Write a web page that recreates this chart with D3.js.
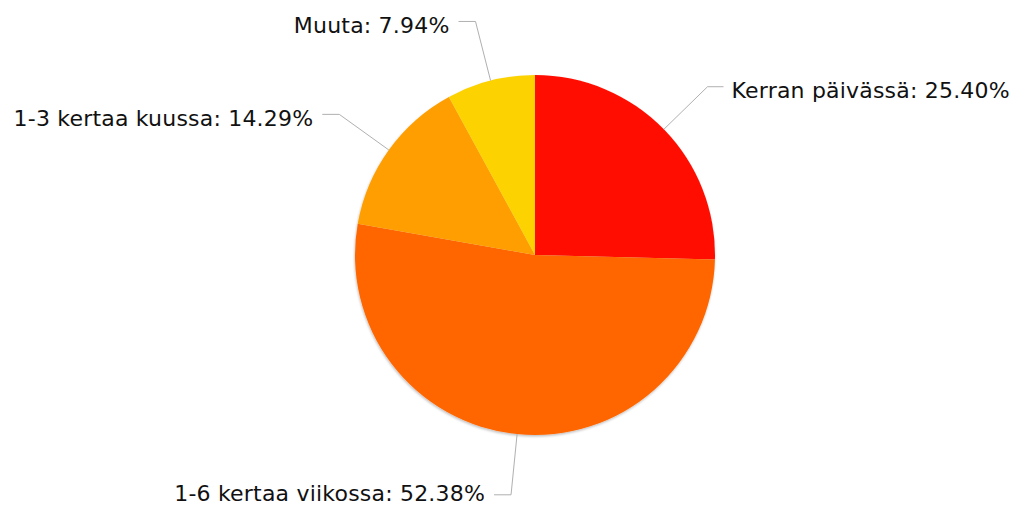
<!DOCTYPE html>
<html>
<head>
<meta charset="utf-8">
<title>Pie</title>
<script src="https://d3js.org/d3.v7.min.js"></script>
<style>
body { margin: 0; background: #fff; }
text { font-family: "DejaVu Sans", Verdana, sans-serif; }
</style>
</head>
<body>
<div id="chart"></div>
<script>
// slices, clockwise from 12 o'clock
var categories = ["Kerran päivässä", "1-6 kertaa viikossa", "1-3 kertaa kuussa", "Muuta"];
var values = [25.40, 52.38, 14.29, 7.94];
var colors = ["#FF0F00", "#FF6600", "#FF9E01", "#FCD202"];

var width = 1013, height = 507;
var cx = 535, cy = 255, radius = 180, labelRadius = 241;

var svg = d3.select("#chart").append("svg")
    .attr("width", width)
    .attr("height", height);

var defs = svg.append("defs");
var f = defs.append("filter").attr("id", "shadow")
    .attr("x", "-10%").attr("y", "-10%").attr("width", "120%").attr("height", "120%");
f.append("feDropShadow")
    .attr("dx", -0.5).attr("dy", 1.5).attr("stdDeviation", 1)
    .attr("flood-color", "#000").attr("flood-opacity", 0.25);

var data = categories.map(function (c, i) { return { name: c, value: values[i], color: colors[i] }; });

var pie = d3.pie().sort(null).value(function (d) { return d.value; });
var arc = d3.arc().innerRadius(0).outerRadius(radius);

var g = svg.append("g").attr("transform", "translate(" + cx + "," + cy + ")");

var arcs = pie(data);

g.append("g").attr("filter", "url(#shadow)")
  .selectAll("path")
  .data(arcs)
  .enter().append("path")
    .attr("d", arc)
    .attr("fill", function (d) { return d.data.color; });

// leader lines + labels
arcs.forEach(function (d) {
  var a = (d.startAngle + d.endAngle) / 2;
  var x0 = radius * Math.sin(a), y0 = -radius * Math.cos(a);
  var x1 = labelRadius * Math.sin(a), y1 = -labelRadius * Math.cos(a);
  var right = Math.sin(a) > 0;
  var x2 = x1 + (right ? 16 : -17);
  var ty = Math.min(y1 + 4, height - cy - 14); // keep bottom label inside

  g.append("polyline")
    .attr("points", [[x0, y0], [x1, y1], [x2, y1]].map(function (p) { return p.join(","); }).join(" "))
    .attr("fill", "none")
    .attr("stroke", "#b0b0b0")
    .attr("stroke-width", 1);

  g.append("text")
    .attr("x", x2 + (right ? 8 : -9))
    .attr("y", ty)
    .attr("dy", "0.35em")
    .attr("text-anchor", right ? "start" : "end")
    .attr("font-size", 22)
    .attr("letter-spacing", "0.2px")
    .attr("fill", "#111")
    .text(d.data.name + ": " + d.data.value.toFixed(2) + "%");
});
</script>
</body>
</html>
